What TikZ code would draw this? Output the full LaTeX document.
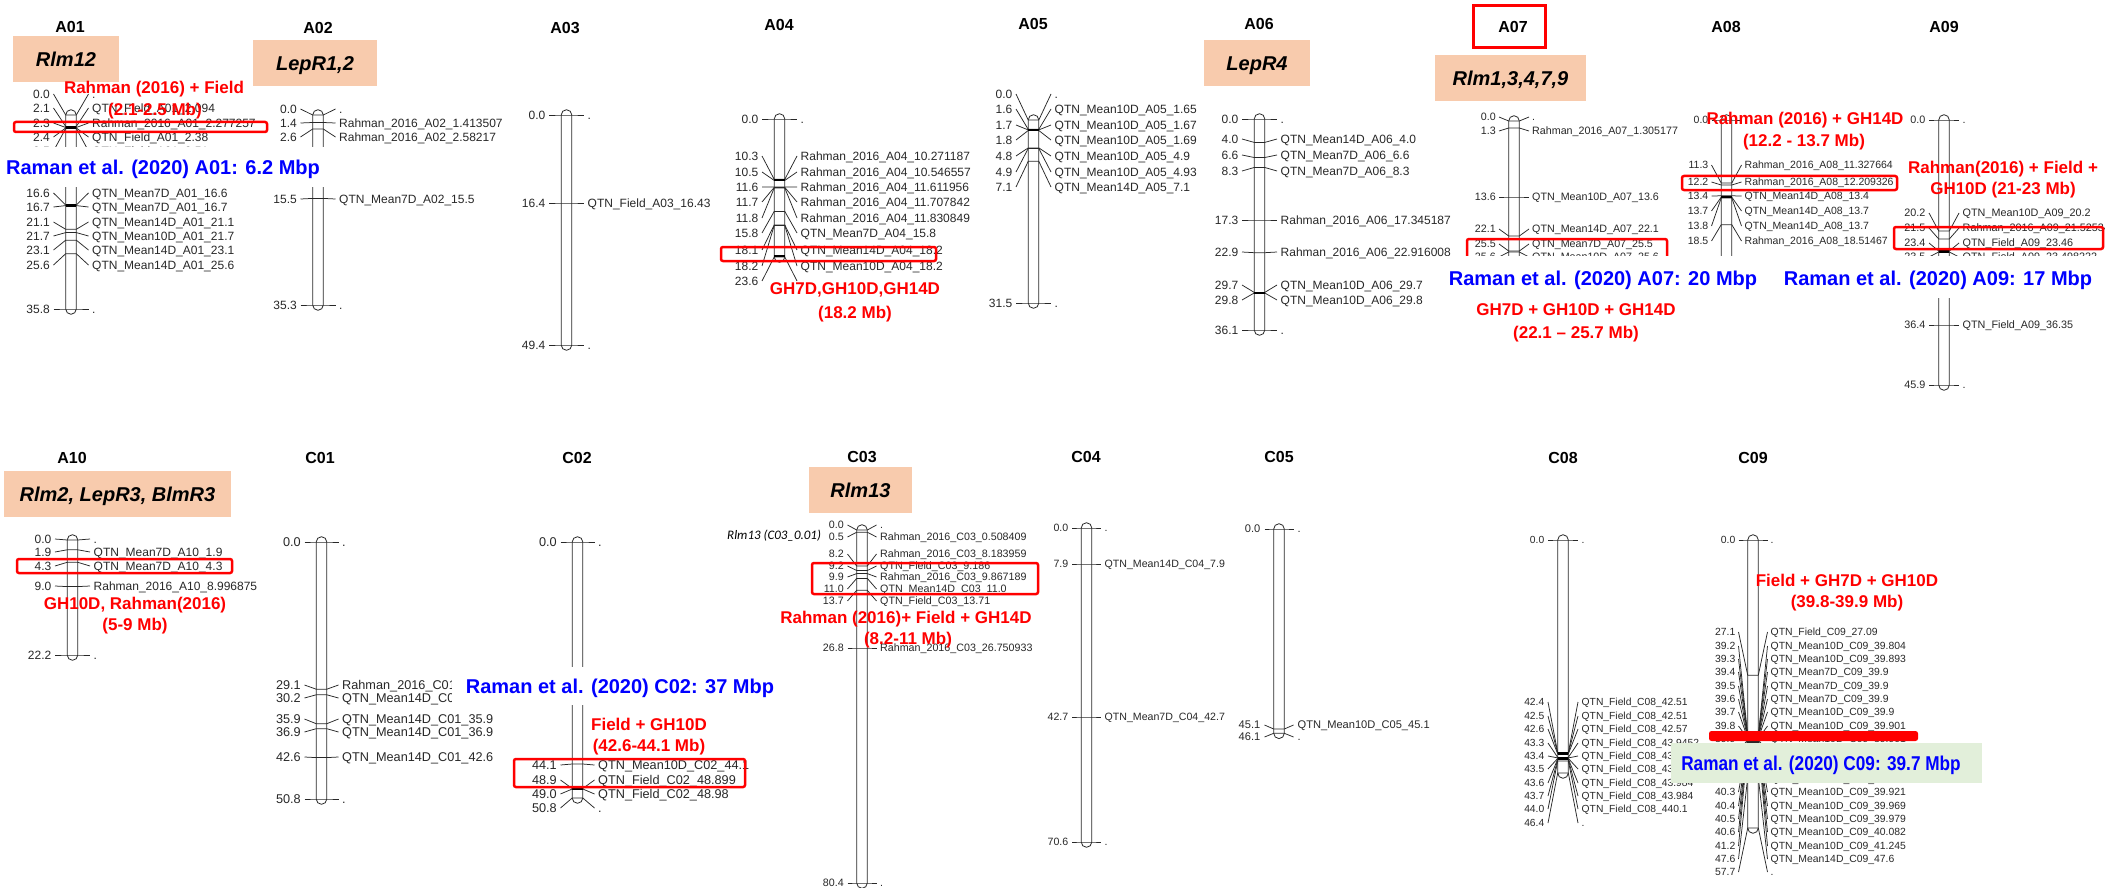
\documentclass[tikz,border=0pt]{standalone}
\usepackage{fontspec}
\usepackage{graphicx}
\setmainfont{Liberation Sans}
\newfontfamily\carl{Carlito}
\definecolor{peach}{RGB}{248,203,173}
\definecolor{qred}{RGB}{255,0,0}
\definecolor{qblue}{RGB}{0,0,255}
\definecolor{lgreen}{RGB}{226,239,218}
\definecolor{ink}{RGB}{40,40,40}
\tikzset{
  cn/.style={line width=0.75pt, draw=ink},
  barst/.style={line width=0.8pt, draw=ink},
  thickmk/.style={line width=2.4pt, draw=black},
  ll/.style={anchor=base east, inner sep=0pt, font=\LF, text=ink},
  rl/.style={anchor=base west, inner sep=0pt, font=\LF, text=ink},
  ttl/.style={inner sep=0pt, font=\fontsize{16}{16}\selectfont\bfseries},
  gene/.style={anchor=base, inner sep=0pt, font=\fontsize{20}{20}\selectfont\bfseries\itshape},
  redt/.style={anchor=base, inner sep=0pt, text=qred, font=\fontsize{17}{17}\selectfont\bfseries},
  bluet/.style={anchor=base, inner sep=0pt, text=qblue, font=\fontsize{20}{20}\selectfont\bfseries},
  redbox/.style={draw=qred, line width=2.5pt, rounded corners=2pt},
}
\def\LF{\fontsize{12}{12}\selectfont}
\def\CH{4.3}
\def\LO{21}
\def\CO{17.5}
\newcommand\setfs[3]{\def\LF{\fontsize{#1}{#1}\selectfont}\pgfmathsetmacro\CH{0.358*#1}\def\LO{#2}\def\CO{#3}}
\newcommand\chrom[3]{\draw[barst, rounded corners=5.3pt] (#1-5.3,#2-5.3) rectangle (#1+5.3,#3+5.3);}
\newcommand\thk[2]{\draw[thickmk] (#1-5.3,#2) -- (#1+5.3,#2);}
\newcommand\mk[5]{%
  \draw[cn] (#1-\CO,#2) -- (#1-5.3,#3) -- (#1+5.3,#3) -- (#1+\CO,#2);
  \node[ll] at (#1-\LO,#2+\CH) {#4};
  \node[rl] at (#1+\LO,#2+\CH) {#5};}
\begin{document}
\catcode`\_=12
\begin{tikzpicture}[x=1pt,y=-1pt]
\fill[white] (0,0) rectangle (2105,888);
\useasboundingbox (0,0) rectangle (2105,888);

% ---------- A01
\setfs{12}{21}{17.5}
\chrom{71}{115}{309}
\mk{71}{94}{115}{0.0}{.}
\mk{71}{108}{126.4}{2.1}{QTN_Field_A01_2.094}
\mk{71}{123}{127.5}{2.3}{Rahman_2016_A01_2.277257}
\mk{71}{137}{128.0}{2.4}{QTN_Field_A01_2.38}
\mk{71}{151}{128.5}{2.5}{QTN_Field_A01_2.51}
\mk{71}{193}{205.0}{16.6}{QTN_Mean7D_A01_16.6}
\mk{71}{207}{205.6}{16.7}{QTN_Mean7D_A01_16.7}
\mk{71}{222}{229.3}{21.1}{QTN_Mean14D_A01_21.1}
\mk{71}{236}{232.6}{21.7}{QTN_Mean10D_A01_21.7}
\mk{71}{250}{240.2}{23.1}{QTN_Mean14D_A01_23.1}
\mk{71}{265}{253.7}{25.6}{QTN_Mean14D_A01_25.6}
\mk{71}{309}{309}{35.8}{.}
\thk{71}{127.6}
\thk{71}{205.3}

% ---------- A02
\chrom{318}{115}{305}
\mk{318}{109}{115}{0.0}{.}
\mk{318}{123}{122.5}{1.4}{Rahman_2016_A02_1.413507}
\mk{318}{137}{129}{2.6}{Rahman_2016_A02_2.58217}
\mk{318}{199}{198.4}{15.5}{QTN_Mean7D_A02_15.5}
\mk{318}{305}{305}{35.3}{.}

% ---------- A03
\chrom{566.5}{115}{345}
\mk{566.5}{115}{115}{0.0}{.}
\mk{566.5}{203}{203}{16.4}{QTN_Field_A03_16.43}
\mk{566.5}{345}{345}{49.4}{.}

% ---------- A04
\chrom{779.5}{119}{257}
\mk{779.5}{119}{119}{0.0}{.}
\mk{779.5}{156}{179.3}{10.3}{Rahman_2016_A04_10.271187}
\mk{779.5}{172}{180.4}{10.5}{Rahman_2016_A04_10.546557}
\mk{779.5}{187}{186.9}{11.6}{Rahman_2016_A04_11.611956}
\mk{779.5}{202}{187.4}{11.7}{Rahman_2016_A04_11.707842}
\mk{779.5}{218}{188.0}{11.8}{Rahman_2016_A04_11.830849}
\mk{779.5}{233}{211.4}{15.8}{QTN_Mean7D_A04_15.8}
\mk{779.5}{250}{224.9}{18.1}{QTN_Mean14D_A04_18.2}
\mk{779.5}{266}{225.5}{18.2}{QTN_Mean10D_A04_18.2}
\mk{779.5}{281}{257}{23.6}{.}
\thk{779.5}{179.9}
\thk{779.5}{256}

% ---------- A05
\chrom{1033.5}{120}{303}
\mk{1033.5}{94}{120}{0.0}{.}
\mk{1033.5}{109}{129.3}{1.6}{QTN_Mean10D_A05_1.65}
\mk{1033.5}{125}{129.9}{1.7}{QTN_Mean10D_A05_1.67}
\mk{1033.5}{140}{130.5}{1.8}{QTN_Mean10D_A05_1.69}
\mk{1033.5}{156}{147.9}{4.8}{QTN_Mean10D_A05_4.9}
\mk{1033.5}{172}{148.5}{4.9}{QTN_Mean10D_A05_4.93}
\mk{1033.5}{187}{161.3}{7.1}{QTN_Mean14D_A05_7.1}
\mk{1033.5}{303}{303}{31.5}{.}
\thk{1033.5}{129.9}

% ---------- A06
\chrom{1259.5}{119}{330}
\mk{1259.5}{119}{119}{0.0}{.}
\mk{1259.5}{139}{142.4}{4.0}{QTN_Mean14D_A06_4.0}
\mk{1259.5}{155}{157.5}{6.6}{QTN_Mean7D_A06_6.6}
\mk{1259.5}{171}{167.5}{8.3}{QTN_Mean7D_A06_8.3}
\mk{1259.5}{220}{220}{17.3}{Rahman_2016_A06_17.345187}
\mk{1259.5}{252}{252.7}{22.9}{Rahman_2016_A06_22.916008}
\mk{1259.5}{285}{292.4}{29.7}{QTN_Mean10D_A06_29.7}
\mk{1259.5}{300}{293}{29.8}{QTN_Mean10D_A06_29.8}
\mk{1259.5}{330}{330}{36.1}{.}
\thk{1259.5}{292.7}

% ---------- A07
\setfs{10.7}{18}{15}
\chrom{1514}{121}{262}
\mk{1514}{117}{121}{0.0}{.}
\mk{1514}{131}{128}{1.3}{Rahman_2016_A07_1.305177}
\mk{1514}{197}{197}{13.6}{QTN_Mean10D_A07_13.6}
\mk{1514}{229}{236}{22.1}{QTN_Mean14D_A07_22.1}
\mk{1514}{244}{251}{25.5}{QTN_Mean7D_A07_25.5}
\mk{1514}{257}{252}{25.6}{QTN_Mean10D_A07_25.6}

% ---------- A08
\setfs{10.5}{18}{15}
\chrom{1726.5}{120}{262}
\mk{1726.5}{120}{120}{0.0}{.}
\mk{1726.5}{165}{183}{11.3}{Rahman_2016_A08_11.327664}
\mk{1726.5}{182}{185}{12.2}{Rahman_2016_A08_12.209326}
\mk{1726.5}{196}{195.8}{13.4}{QTN_Mean14D_A08_13.4}
\mk{1726.5}{211}{197.2}{13.7}{QTN_Mean14D_A08_13.7}
\mk{1726.5}{226}{198}{13.8}{QTN_Mean14D_A08_13.7}
\mk{1726.5}{241}{224.7}{18.5}{Rahman_2016_A08_18.51467}
\thk{1726.5}{197}

% ---------- A09
\setfs{10.8}{18.5}{15}
\chrom{1944}{120}{385}
\mk{1944}{120}{120}{0.0}{.}
\mk{1944}{213}{231}{20.2}{QTN_Mean10D_A09_20.2}
\mk{1944}{228}{239}{21.5}{Rahman_2016_A09_21.52534}
\mk{1944}{243}{251}{23.4}{QTN_Field_A09_23.46}
\mk{1944}{257}{252}{23.5}{QTN_Field_A09_23.498222}
\mk{1944}{325}{325}{36.4}{QTN_Field_A09_36.35}
\mk{1944}{385}{385}{45.9}{.}
\thk{1944}{251.5}

% ---------- A10
\setfs{12}{21}{17.5}
\chrom{72.5}{540}{655}
\mk{72.5}{539}{540}{0.0}{.}
\mk{72.5}{552}{549.8}{1.9}{QTN_Mean7D_A10_1.9}
\mk{72.5}{566}{562.3}{4.3}{QTN_Mean7D_A10_4.3}
\mk{72.5}{586}{586.6}{9.0}{Rahman_2016_A10_8.996875}
\mk{72.5}{655}{655}{22.2}{.}

% ---------- C01
\setfs{12.7}{20.5}{17}
\chrom{321.5}{542}{799}
\mk{321.5}{542}{542}{0.0}{.}
\mk{321.5}{685}{689.2}{29.1}{Rahman_2016_C01_29.139}
\mk{321.5}{698}{694.8}{30.2}{QTN_Mean14D_C01_30.2}
\mk{321.5}{719}{723.7}{35.9}{QTN_Mean14D_C01_35.9}
\mk{321.5}{732}{728.7}{36.9}{QTN_Mean14D_C01_36.9}
\mk{321.5}{757}{757.6}{42.6}{QTN_Mean14D_C01_42.6}
\mk{321.5}{799}{799}{50.8}{.}

% ---------- C02
\chrom{577.5}{542}{798}
\mk{577.5}{542}{542}{0.0}{.}
\mk{577.5}{765}{764}{44.1}{QTN_Mean10D_C02_44.1}
\mk{577.5}{780}{788.5}{48.9}{QTN_Field_C02_48.899}
\mk{577.5}{794}{789}{49.0}{QTN_Field_C02_48.98}
\mk{577.5}{808}{798}{50.8}{.}
\thk{577.5}{788.7}

% ---------- C03
\setfs{10.7}{18}{14.5}
\chrom{862}{530}{883}
\mk{862}{525}{530}{0.0}{.}
\mk{862}{537}{532.2}{0.5}{Rahman_2016_C03_0.508409}
\mk{862}{554}{566}{8.2}{Rahman_2016_C03_8.183959}
\mk{862}{566}{570.5}{9.2}{QTN_Field_C03_9.186}
\mk{862}{577}{573.6}{9.9}{Rahman_2016_C03_9.867189}
\mk{862}{589}{578.4}{11.0}{QTN_Mean14D_C03_11.0}
\mk{862}{601}{590.3}{13.7}{QTN_Field_C03_13.71}
\mk{862}{648}{648}{26.8}{Rahman_2016_C03_26.750933}
\mk{862}{883}{883}{80.4}{.}
\node[anchor=base west, inner sep=0pt, font=\fontsize{13}{13}\selectfont\carl\itshape] (rlmsmall) at (727,539.5) {Rlm13 (C03_0.01)};

% ---------- C04
\setfs{10.6}{18}{14.5}
\chrom{1086.5}{528}{842}
\mk{1086.5}{528}{528}{0.0}{.}
\mk{1086.5}{564}{564}{7.9}{QTN_Mean14D_C04_7.9}
\mk{1086.5}{717}{717}{42.7}{QTN_Mean7D_C04_42.7}
\mk{1086.5}{842}{842}{70.6}{.}

% ---------- C05
\setfs{11.1}{18.5}{14.5}
\chrom{1279}{529}{733.3}
\mk{1279}{529}{529}{0.0}{.}
\mk{1279}{725}{729}{45.1}{QTN_Mean10D_C05_45.1}
\mk{1279}{737}{733.3}{46.1}{.}

% ---------- C08
\setfs{10.3}{18.5}{15}
\chrom{1563}{540}{773}
\mk{1563}{540}{540}{0.0}{.}
\mk{1563}{702}{752.8}{42.4}{QTN_Field_C08_42.51}
\mk{1563}{716}{753.4}{42.5}{QTN_Field_C08_42.51}
\mk{1563}{729}{753.9}{42.6}{QTN_Field_C08_42.57}
\mk{1563}{743}{757.4}{43.3}{QTN_Field_C08_43.9452}
\mk{1563}{756}{757.9}{43.4}{QTN_Field_C08_43.9452}
\mk{1563}{769}{758.4}{43.5}{QTN_Field_C08_43.953}
\mk{1563}{783}{758.9}{43.6}{QTN_Field_C08_43.984}
\mk{1563}{796}{759.4}{43.7}{QTN_Field_C08_43.984}
\mk{1563}{809}{760.9}{44.0}{QTN_Field_C08_440.1}
\mk{1563}{823}{773}{46.4}{.}
\thk{1563}{753.5}
\thk{1563}{758.5}

% ---------- C09
\setfs{10.4}{17.5}{14.5}
\chrom{1753}{540}{828}
\mk{1753}{540}{540}{0.0}{.}
\mk{1753}{632}{675.2}{27.1}{QTN_Field_C09_27.09}
\mk{1753}{646}{735.6}{39.2}{QTN_Mean10D_C09_39.804}
\mk{1753}{659}{736.1}{39.3}{QTN_Mean10D_C09_39.893}
\mk{1753}{672}{736.6}{39.4}{QTN_Mean7D_C09_39.9}
\mk{1753}{686}{737.1}{39.5}{QTN_Mean7D_C09_39.9}
\mk{1753}{699}{737.6}{39.6}{QTN_Mean7D_C09_39.9}
\mk{1753}{712}{738.1}{39.7}{QTN_Mean10D_C09_39.9}
\mk{1753}{726}{738.6}{39.8}{QTN_Mean10D_C09_39.901}
\mk{1753}{739}{739.1}{39.9}{QTN_Mean10D_C09_39.901}
\mk{1753}{752}{739.6}{40.0}{QTN_Mean10D_C09_39.907}
\mk{1753}{766}{740.1}{40.1}{QTN_Mean10D_C09_39.911}
\mk{1753}{779}{740.6}{40.2}{QTN_Mean10D_C09_39.919}
\mk{1753}{792}{741.1}{40.3}{QTN_Mean10D_C09_39.921}
\mk{1753}{806}{741.6}{40.4}{QTN_Mean10D_C09_39.969}
\mk{1753}{819}{742.1}{40.5}{QTN_Mean10D_C09_39.979}
\mk{1753}{832}{742.6}{40.6}{QTN_Mean10D_C09_40.082}
\mk{1753}{846}{745.6}{41.2}{QTN_Mean10D_C09_41.245}
\mk{1753}{859}{777.5}{47.6}{QTN_Mean14D_C09_47.6}
\mk{1753}{872}{828}{57.7}{.}

% ---------- titles
\node[ttl] (tA01) at (70,27) {A01};
\node[ttl] (tA02) at (318,28) {A02};
\node[ttl] (tA03) at (565,28) {A03};
\node[ttl] (tA04) at (779,25) {A04};
\node[ttl] (tA05) at (1033,24) {A05};
\node[ttl] (tA06) at (1259,24) {A06};
\node[ttl] (tA07) at (1513,27) {A07};
\node[ttl] (tA08) at (1726,27) {A08};
\node[ttl] (tA09) at (1944,27) {A09};
\node[ttl] (tA10) at (72,458) {A10};
\node[ttl] (tC01) at (320,458) {C01};
\node[ttl] (tC02) at (577,458) {C02};
\node[ttl] (tC03) at (862,457) {C03};
\node[ttl] (tC04) at (1086,457) {C04};
\node[ttl] (tC05) at (1279,457) {C05};
\node[ttl] (tC08) at (1563,458) {C08};
\node[ttl] (tC09) at (1753,458) {C09};
\draw[draw=qred, line width=3pt] (1473,6) rectangle (1545,48);

% ---------- gene boxes
\fill[peach] (13,36) rectangle (119,82);
\node[gene] (g1) at (66,66.2) {Rlm12};
\fill[peach] (253,40) rectangle (377,86);
\node[gene] (g2) at (315,70.2) {LepR1,2};
\fill[peach] (1204,40) rectangle (1310,86);
\node[gene] (g3) at (1257,70.2) {LepR4};
\fill[peach] (1435,55) rectangle (1586,101);
\node[gene] (g4) at (1510.5,85.2) {Rlm1,3,4,7,9};
\fill[peach] (4,471) rectangle (231,517);
\node[gene] (g5) at (117.5,501.2) {Rlm2, LepR3, BlmR3};
\fill[peach] (809,467) rectangle (912,513);
\node[gene] (g6) at (860.5,497.2) {Rlm13};

% ---------- red highlight boxes
\draw[redbox] (14,122) rectangle (267,132);
\draw[redbox] (721,247) rectangle (936,261);
\draw[redbox] (1467,239) rectangle (1667,264);
\draw[redbox] (1682,176) rectangle (1897,190);
\draw[redbox] (1894,227) rectangle (2103,249);
\draw[redbox] (17,559) rectangle (232,573);
\draw[redbox] (514,759) rectangle (745,787);
\draw[redbox] (812,563) rectangle (1038,594);

% ---------- blue labels on white
\fill[white] (5,147) rectangle (330,187);
\node[bluet] (b1) at (163,174.2) {Raman et al. (2020) A01: 6.2 Mbp};
\fill[white] (1445,256) rectangle (1762,298);
\node[bluet] (b2) at (1603,285.2) {Raman et al. (2020) A07: 20 Mbp};
\fill[white] (1768,256) rectangle (2105,298);
\node[bluet] (b3) at (1938,285.2) {Raman et al. (2020) A09: 17 Mbp};
\fill[white] (452,667) rectangle (778,705);
\node[bluet] (b4) at (620,693.2) {Raman et al. (2020) C02: 37 Mbp};

% ---------- red annotations
\node[redt] (r1a) at (154,93.1) {Rahman (2016) + Field};
\node[redt] (r1b) at (155,115.1) {(2.1-2.5 Mb)};
\node[redt] (r2a) at (855,294.1) {GH7D,GH10D,GH14D};
\node[redt] (r2b) at (855,318.1) {(18.2 Mb)};
\node[redt] (r3a) at (1576,315.1) {GH7D + GH10D + GH14D};
\node[redt] (r3b) at (1576,338.1) {(22.1 – 25.7 Mb)};
\node[redt] (r4a) at (1805,124.1) {Rahman (2016) + GH14D};
\node[redt] (r4b) at (1804,146.1) {(12.2 - 13.7 Mb)};
\node[redt] (r5a) at (2003,173.1) {Rahman(2016) + Field +};
\node[redt] (r5b) at (2003,194.1) {GH10D (21-23 Mb)};
\node[redt] (r6a) at (135,609.1) {GH10D, Rahman(2016)};
\node[redt] (r6b) at (135,630.1) {(5-9 Mb)};
\node[redt] (r7a) at (649,730.1) {Field + GH10D};
\node[redt] (r7b) at (649,751.1) {(42.6-44.1 Mb)};
\node[redt] (r8a) at (906,623.1) {Rahman (2016)+ Field + GH14D};
\node[redt] (r8b) at (908,644.1) {(8.2-11 Mb)};
\node[redt] (r9a) at (1847,586.1) {Field + GH7D + GH10D};
\node[redt] (r9b) at (1847,607.1) {(39.8-39.9 Mb)};

% ---------- C09 highlight
\fill[qred, rounded corners=2.5pt] (1709,731) rectangle (1918,741);
\fill[lgreen] (1671,743) rectangle (1982,783);
\node[bluet] (b5) at (1821,770.2) {\scalebox{0.86}[1]{Raman et al. (2020) C09: 39.7 Mbp}};
\end{tikzpicture}
\end{document}
